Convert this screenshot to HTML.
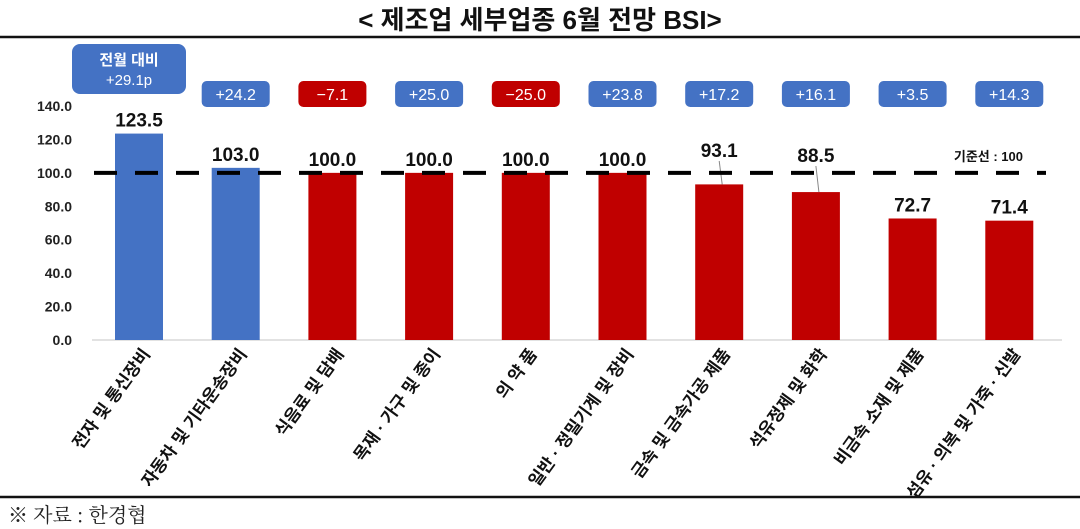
<!DOCTYPE html>
<html><head><meta charset="utf-8"><style>
body{margin:0;background:#fff;}
svg{display:block;font-family:"Liberation Sans","Noto Sans CJK KR",sans-serif;}
</style></head><body>
<svg width="1080" height="529" viewBox="0 0 1080 529">
<text x="540" y="29" text-anchor="middle" font-size="26" font-weight="bold" fill="#111">&lt; 제조업 세부업종 6월 전망 BSI&gt;</text>
<line x1="0" y1="37" x2="1080" y2="37" stroke="#111" stroke-width="2.5"/>
<line x1="0" y1="497" x2="1080" y2="497" stroke="#111" stroke-width="2.5"/>
<text x="8" y="522" font-size="20" fill="#222" font-family="'Noto Serif CJK SC','Liberation Serif',serif">※ 자료 : 한경협</text>
<g id="axis"></g><g id="bars"></g><g id="labels"></g>
</svg>
<script>
const categories=["전자 및 통신장비","자동차 및 기타운송장비","식음료 및 담배","목재 · 가구 및 종이","의 약 품","일반 · 정밀기계 및 장비","금속 및 금속가공 제품","석유정제 및 화학","비금속 소재 및 제품","섬유 · 의복 및 가죽 · 신발"];
const values=[123.5,103.0,100.0,100.0,100.0,100.0,93.1,88.5,72.7,71.4];
const changes=["+24.2","+24.2","−7.1","+25.0","−25.0","+23.8","+17.2","+16.1","+3.5","+14.3"];
const colorsUp=[true,true,false,false,false,false,false,false,false,false];
const changeUp=[true,true,false,true,false,true,true,true,true,true];
const yTicks=[0,20,40,60,80,100,120,140];
const baseline=100;
const NS="http://www.w3.org/2000/svg";
const y=v=>340-v*(234/140);
const x=i=>139+i*96.7;
function mk(tag,attrs,parent,text){const e=document.createElementNS(NS,tag);for(const k in attrs)e.setAttribute(k,attrs[k]);if(text!==undefined)e.textContent=text;parent.appendChild(e);return e;}
const ax=document.getElementById('axis'),bg=document.getElementById('bars'),lg=document.getElementById('labels');
yTicks.forEach(t=>{const e=mk('text',{x:72,y:y(t)+5,'text-anchor':'end','font-size':14,'font-weight':'bold',fill:'#222'},ax,t.toFixed(1));

});
const gl=mk('line',{x1:92,x2:1062,y1:y(0),y2:y(0),stroke:'#d8d8d8','stroke-width':1.5},ax);


const vlabY=[null,null,null,null,null,null,157,162,null,null];
values.forEach((v,i)=>{
 const r=mk('rect',{x:x(i)-24,y:y(v),width:48,height:y(0)-y(v),fill:colorsUp[i]?'#4472c4':'#c00000'},bg);
 
 
 let ly=vlabY[i]!==null?vlabY[i]:y(v)-7;
 if(vlabY[i]!==null){const c=mk('line',{x1:x(i),x2:x(i)+3,y1:ly+4,y2:y(v),stroke:'#888','stroke-width':1},lg);
 
 }
 const t=mk('text',{x:x(i),y:ly,'text-anchor':'middle','font-size':19,'font-weight':'bold',fill:'#111'},lg,v.toFixed(1));
 
 
 const lbl=mk('text',{'text-anchor':'end','font-size':17,'font-weight':'bold',fill:'#111',transform:`translate(${x(i)+12},354) rotate(-54)`},lg,categories[i]);
 
 
 if(i>0){const b=mk('rect',{x:x(i)-34,y:81,width:68,height:26,rx:5,fill:changeUp[i]?'#4472c4':'#c00000'},lg);
 
 
 const bt=mk('text',{x:x(i),y:100,'text-anchor':'middle','font-size':16,fill:'#fff'},lg,changes[i]);
 
 }
});
const b0=mk('rect',{x:72,y:44,width:114,height:50,rx:8,fill:'#4472c4'},lg);


const t1=mk('text',{x:129,y:65,'text-anchor':'middle','font-size':15,'font-weight':'bold',fill:'#fff'},lg,'전월 대비');


const t2=mk('text',{x:129,y:85,'text-anchor':'middle','font-size':15,fill:'#fff'},lg,'+29.1p');


const dl=mk('line',{x1:94,x2:1046,y1:y(baseline),y2:y(baseline),stroke:'#000','stroke-width':4,'stroke-dasharray':'23 18'},lg);


const bl=mk('text',{x:1023,y:161,'text-anchor':'end','font-size':13,'font-weight':'bold',fill:'#111'},lg,'기준선 : 100');


</script>
</body></html>
